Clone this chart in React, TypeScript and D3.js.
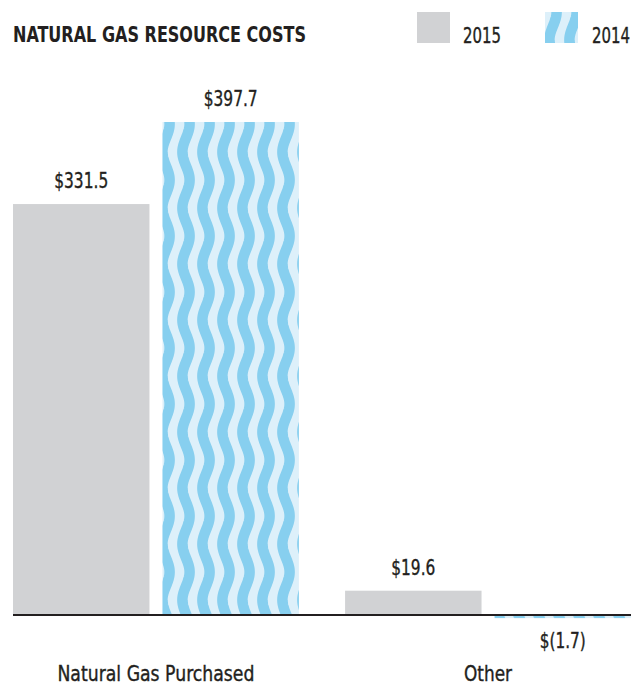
import React from "react";
import * as d3 from "d3";

const categories = ["Natural Gas Purchased", "Other"];
const seriesNames = ["2015", "2014"];
const values2015 = [331.5, 19.6];
const values2014 = [397.7, -1.7];
const valueLabels2015 = ["$331.5", "$19.6"];
const valueLabels2014 = ["$397.7", "$(1.7)"];
const title = "NATURAL GAS RESOURCE COSTS";

const W = 631;
const H = 685;
const FONT = "'DejaVu Sans Condensed', 'DejaVu Sans', sans-serif";
const TXT = "#231f20";
const GRAY = "#d1d2d4";
const BLUE_D = "#87cfef";
const BLUE_L = "#ddf0fa";

// approximate rendered widths measured from the reference (text fitting)
const fitWidth: Record<string, number> = {
  "$331.5": 54,
  "$397.7": 54,
  "$19.6": 44,
  "$(1.7)": 46,
  "Natural Gas Purchased": 197,
  "Other": 48,
};

export default function App() {
  const x0 = d3.scaleBand<string>().domain(categories).range([13, 631]).paddingInner(0.139).paddingOuter(0);
  const x1 = d3.scaleBand<string>().domain(seriesNames).range([0, x0.bandwidth()]).paddingInner(0.087).paddingOuter(0);
  const y = d3.scaleLinear().domain([0, 397.7]).range([615, 122]);

  const series = [
    { name: "2015", values: values2015, labels: valueLabels2015, fill: GRAY },
    { name: "2014", values: values2014, labels: valueLabels2014, fill: "url(#wave)" },
  ];

  const amp = 3.6;
  const period = 56;
  const wavePts: [number, number][] = d3
    .range(-period, 2 * period + 0.5, 1)
    .map((t) => [10 + amp * Math.sin((2 * Math.PI * t) / period), t]);
  const waveD = d3.line()(wavePts) || "";

  const textStroke = { stroke: TXT, strokeWidth: 0.35 };

  return (
    <svg width={W} height={H} style={{ position: "absolute", left: 0, top: 0 }} fontFamily={FONT}>
      <defs>
        <pattern id="wave" patternUnits="userSpaceOnUse" width={20} height={period} x={3} y={110}>
          <rect width={20} height={period} fill={BLUE_L} />
          <path d={waveD} fill="none" stroke={BLUE_D} strokeWidth={10.5} />
        </pattern>
      </defs>
      <rect width={W} height={H} fill="#fff" />
      <text x={13} y={42} fontSize={20.5} fontWeight="bold" fill={TXT} textLength={293} lengthAdjust="spacingAndGlyphs">{title}</text>

      <rect x={417} y={12} width={33} height={31} fill={GRAY} />
      <text x={463} y={43} fontSize={20.5} fill={TXT} {...textStroke} textLength={38} lengthAdjust="spacingAndGlyphs">{seriesNames[0]}</text>
      <rect x={545} y={12} width={33} height={31} fill="url(#wave)" />
      <text x={592} y={43} fontSize={20.5} fill={TXT} {...textStroke} textLength={38} lengthAdjust="spacingAndGlyphs">{seriesNames[1]}</text>

      {categories.map((c, i) => (
        <g key={c} transform={`translate(${x0(c)},0)`}>
          {series.map((s) => {
            const v = s.values[i];
            const bx = x1(s.name) as number;
            const bw = x1.bandwidth();
            const top = v >= 0 ? y(v) : y(0) + 1;
            const h = v >= 0 ? y(0) - y(v) : y(v) - y(0);
            const ly = v >= 0 ? y(v) - 16 : y(v) + 31;
            const lbl = s.labels[i];
            return (
              <g key={s.name}>
                <rect x={bx} y={top} width={bw} height={h} fill={s.fill} />
                <text x={bx + bw / 2} y={ly} textAnchor="middle" fontSize={20.5} fill={TXT} {...textStroke} textLength={fitWidth[lbl]} lengthAdjust="spacingAndGlyphs">{lbl}</text>
              </g>
            );
          })}
          <text x={x0.bandwidth() / 2} y={681} textAnchor="middle" fontSize={20.5} fill={TXT} {...textStroke} textLength={fitWidth[c]} lengthAdjust="spacingAndGlyphs">{c}</text>
        </g>
      ))}
      <line x1={13} x2={631} y1={615} y2={615} stroke={TXT} strokeWidth={2.2} />
    </svg>
  );
}
